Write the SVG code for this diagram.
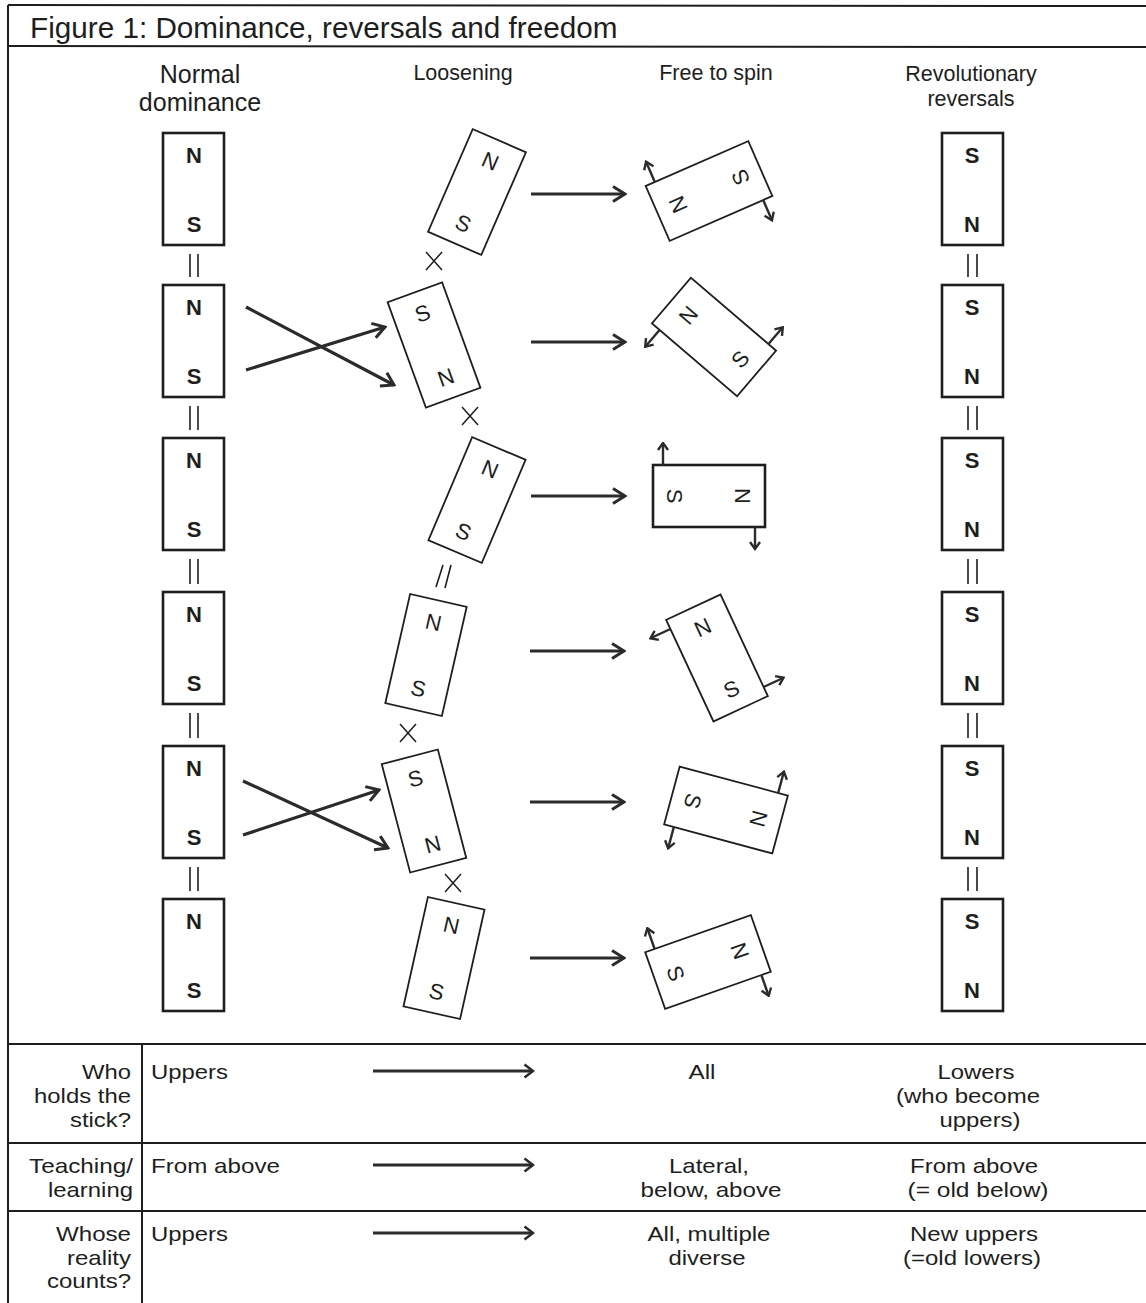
<svg xmlns="http://www.w3.org/2000/svg" width="1146" height="1303" viewBox="0 0 1146 1303">
<defs>
<style>
.t{font-family:"Liberation Sans",Arial,sans-serif;fill:#1e1e1e}
.title{font-size:29.7px}
.h1{font-size:25px;text-anchor:middle}
.h{font-size:21.5px;text-anchor:middle}
.tb{font-size:21px}
.r{text-anchor:end}
.m{text-anchor:middle}
.mag{fill:none;stroke:#1e1e1e;stroke-width:2.6}
.mag2{fill:none;stroke:#1e1e1e;stroke-width:1.8}
.lb{font-family:"Liberation Sans",Arial,sans-serif;font-size:22px;font-weight:bold;text-anchor:middle;fill:#1e1e1e}
.lr{font-family:"Liberation Sans",Arial,sans-serif;font-size:22px;text-anchor:middle;fill:#1e1e1e}
.rule{stroke:#1e1e1e;stroke-width:2;fill:none}
.eq{stroke:#1e1e1e;stroke-width:1.6}
.x{stroke:#1e1e1e;stroke-width:1.5;fill:none}
.arr{stroke:#2b2b2b;stroke-width:3.2;fill:none;marker-end:url(#ah)}
.sp{stroke:#2b2b2b;stroke-width:2.4;fill:none;marker-end:url(#sh)}
.ta{stroke:#2b2b2b;stroke-width:3;fill:none;marker-end:url(#ht)}
</style>
<marker id="ah" viewBox="0 0 16 18" refX="14" refY="9" markerWidth="16" markerHeight="18" markerUnits="userSpaceOnUse" orient="auto"><path d="M2,1.5 L14,9 L2,16.5" fill="none" stroke="#2b2b2b" stroke-width="3"/></marker>
<marker id="sh" viewBox="0 0 10 12" refX="8.5" refY="6" markerWidth="10" markerHeight="12" markerUnits="userSpaceOnUse" orient="auto"><path d="M1.5,1 L8.5,6 L1.5,11" fill="none" stroke="#2b2b2b" stroke-width="2.4"/></marker>
<marker id="ht" viewBox="0 0 12 16" refX="10.5" refY="8" markerWidth="12" markerHeight="16" markerUnits="userSpaceOnUse" orient="auto"><path d="M2,1.5 L10.5,8 L2,14.5" fill="none" stroke="#2b2b2b" stroke-width="2.6"/></marker>
</defs>
<rect width="1146" height="1303" fill="#ffffff"/>
<g id="frame">
<line class="rule" x1="8" y1="5" x2="1146" y2="6"/>
<line class="rule" x1="8" y1="5" x2="8" y2="1303"/>
<line class="rule" x1="8" y1="46" x2="1146" y2="47"/>
<line class="rule" x1="8" y1="1044" x2="1146" y2="1044"/>
<line class="rule" x1="8" y1="1143" x2="1146" y2="1143"/>
<line class="rule" x1="8" y1="1211" x2="1146" y2="1211"/>
<line class="rule" x1="142" y1="1044" x2="142" y2="1303"/>
</g>
<g id="title"><text class="t title" x="30" y="38">Figure 1: Dominance, reversals and freedom</text></g>
<g id="headers">
<text class="t h1" x="200" y="83">Normal</text>
<text class="t h1" x="200" y="111">dominance</text>
<text class="t h" x="463" y="80">Loosening</text>
<text class="t h" x="716" y="80">Free to spin</text>
<text class="t h" x="971" y="81">Revolutionary</text>
<text class="t h" x="971" y="106">reversals</text>
</g>
<g id="normal">
<g id="n1"><rect class="mag" x="163" y="133" width="61" height="112"/><text class="lb" x="194" y="163">N</text><text class="lb" x="194" y="232">S</text></g>
<g id="n2"><rect class="mag" x="163" y="285" width="61" height="112"/><text class="lb" x="194" y="315">N</text><text class="lb" x="194" y="384">S</text></g>
<g id="n3"><rect class="mag" x="163" y="438" width="61" height="112"/><text class="lb" x="194" y="468">N</text><text class="lb" x="194" y="537">S</text></g>
<g id="n4"><rect class="mag" x="163" y="592" width="61" height="112"/><text class="lb" x="194" y="622">N</text><text class="lb" x="194" y="691">S</text></g>
<g id="n5"><rect class="mag" x="163" y="746" width="61" height="112"/><text class="lb" x="194" y="776">N</text><text class="lb" x="194" y="845">S</text></g>
<g id="n6"><rect class="mag" x="163" y="899" width="61" height="112"/><text class="lb" x="194" y="929">N</text><text class="lb" x="194" y="998">S</text></g>
</g>
<g id="revolutionary">
<g id="r1"><rect class="mag" x="942" y="133" width="61" height="112"/><text class="lb" x="972" y="163">S</text><text class="lb" x="972" y="232">N</text></g>
<g id="r2"><rect class="mag" x="942" y="285" width="61" height="112"/><text class="lb" x="972" y="315">S</text><text class="lb" x="972" y="384">N</text></g>
<g id="r3"><rect class="mag" x="942" y="438" width="61" height="112"/><text class="lb" x="972" y="468">S</text><text class="lb" x="972" y="537">N</text></g>
<g id="r4"><rect class="mag" x="942" y="592" width="61" height="112"/><text class="lb" x="972" y="622">S</text><text class="lb" x="972" y="691">N</text></g>
<g id="r5"><rect class="mag" x="942" y="746" width="61" height="112"/><text class="lb" x="972" y="776">S</text><text class="lb" x="972" y="845">N</text></g>
<g id="r6"><rect class="mag" x="942" y="899" width="61" height="112"/><text class="lb" x="972" y="929">S</text><text class="lb" x="972" y="998">N</text></g>
</g>
<g id="loosening">
<g id="l1" transform="translate(477,192) rotate(23.5)"><rect class="mag2" x="-29" y="-56" width="58" height="112"/><text class="lr" y="-26">N</text><text class="lr" y="42">S</text></g>
<g id="l2" transform="translate(434,345) rotate(-20)"><rect class="mag2" x="-29" y="-56" width="58" height="112"/><text class="lr" y="-26">S</text><text class="lr" y="42">N</text></g>
<g id="l3" transform="translate(477,500) rotate(23)"><rect class="mag2" x="-29" y="-56" width="58" height="112"/><text class="lr" y="-26">N</text><text class="lr" y="42">S</text></g>
<g id="l4" transform="translate(426,655) rotate(12.8)"><rect class="mag2" x="-29" y="-56" width="58" height="112"/><text class="lr" y="-26">N</text><text class="lr" y="42">S</text></g>
<g id="l5" transform="translate(424,811) rotate(-14.7)"><rect class="mag2" x="-29" y="-56" width="58" height="112"/><text class="lr" y="-26">S</text><text class="lr" y="42">N</text></g>
<g id="l6" transform="translate(444,958) rotate(12.6)"><rect class="mag2" x="-29" y="-56" width="58" height="112"/><text class="lr" y="-26">N</text><text class="lr" y="42">S</text></g>
</g>
<g id="free">
<g id="f1" transform="translate(709,191) rotate(-113.6)"><rect class="mag2" x="-30" y="-56" width="60" height="112"/><text class="lr" y="-26">N</text><text class="lr" y="42">S</text><line class="sp" x1="30" y1="-46" x2="52" y2="-46"/><line class="sp" x1="-30" y1="46" x2="-52" y2="46"/></g>
<g id="f2" transform="translate(714,337) rotate(-49.5)"><rect class="mag2" x="-30" y="-56" width="60" height="112"/><text class="lr" y="-26">N</text><text class="lr" y="42">S</text><line class="sp" x1="-30" y1="-46" x2="-52" y2="-46"/><line class="sp" x1="30" y1="46" x2="52" y2="46"/></g>
<g id="f3" transform="translate(709,496) rotate(90)"><rect class="mag" x="-31" y="-56" width="62" height="112"/><text class="lr" y="-26">N</text><text class="lr" y="42">S</text><line class="sp" x1="31" y1="-46" x2="53" y2="-46"/><line class="sp" x1="-31" y1="46" x2="-53" y2="46"/></g>
<g id="f4" transform="translate(717,658) rotate(-25)"><rect class="mag2" x="-30" y="-56" width="60" height="112"/><text class="lr" y="-26">N</text><text class="lr" y="42">S</text><line class="sp" x1="-30" y1="-46" x2="-52" y2="-46"/><line class="sp" x1="30" y1="46" x2="52" y2="46"/></g>
<g id="f5" transform="translate(726,810) rotate(105)"><rect class="mag2" x="-30" y="-56" width="60" height="112"/><text class="lr" y="-26">N</text><text class="lr" y="42">S</text><line class="sp" x1="-30" y1="-46" x2="-52" y2="-46"/><line class="sp" x1="30" y1="46" x2="52" y2="46"/></g>
<g id="f6" transform="translate(708,962) rotate(70.6)"><rect class="mag2" x="-30" y="-56" width="60" height="112"/><text class="lr" y="-26">N</text><text class="lr" y="42">S</text><line class="sp" x1="30" y1="-46" x2="52" y2="-46"/><line class="sp" x1="-30" y1="46" x2="-52" y2="46"/></g>
</g>
<g id="connectors">
<g id="equals">
<path class="eq" d="M190,254 V277 M198,254 V277"/>
<path class="eq" d="M190,406 V430 M198,406 V430"/>
<path class="eq" d="M190,559 V584 M198,559 V584"/>
<path class="eq" d="M190,713 V738 M198,713 V738"/>
<path class="eq" d="M190,867 V891 M198,867 V891"/>
<path class="eq" d="M968,254 V277 M977,254 V277"/>
<path class="eq" d="M968,406 V430 M977,406 V430"/>
<path class="eq" d="M968,559 V584 M977,559 V584"/>
<path class="eq" d="M968,713 V738 M977,713 V738"/>
<path class="eq" d="M968,867 V891 M977,867 V891"/>
<path class="eq" d="M443,565 L436,587 M451,565 L445,588"/>
</g>
<g id="breaks">
<path class="x" transform="translate(434,261)" d="M-8,-9 L8,9 M8,-9 L-8,9"/>
<path class="x" transform="translate(470,416)" d="M-8,-9 L8,9 M8,-9 L-8,9"/>
<path class="x" transform="translate(408,733)" d="M-8,-9 L8,9 M8,-9 L-8,9"/>
<path class="x" transform="translate(453,883)" d="M-8,-9 L8,9 M8,-9 L-8,9"/>
</g>
<g id="cross-arrows">
<line class="arr" x1="246" y1="307" x2="394" y2="385"/>
<line class="arr" x1="246" y1="370" x2="385" y2="327"/>
<line class="arr" x1="243" y1="781" x2="388" y2="848"/>
<line class="arr" x1="243" y1="835" x2="379" y2="790"/>
</g>
<g id="row-arrows">
<line class="arr" x1="531" y1="194" x2="625" y2="194"/>
<line class="arr" x1="531" y1="342" x2="625" y2="342"/>
<line class="arr" x1="531" y1="496" x2="625" y2="496"/>
<line class="arr" x1="530" y1="651" x2="624" y2="651"/>
<line class="arr" x1="530" y1="802" x2="624" y2="802"/>
<line class="arr" x1="530" y1="958" x2="624" y2="958"/>
</g>
<g id="table-arrows">
<line class="ta" x1="373" y1="1071" x2="533" y2="1071"/>
<line class="ta" x1="373" y1="1165" x2="533" y2="1165"/>
<line class="ta" x1="373" y1="1233" x2="533" y2="1233"/>
</g>
</g>
<g id="table">
<g id="row-stick">
<text class="t tb r" x="131" y="1079" textLength="49" lengthAdjust="spacingAndGlyphs">Who</text>
<text class="t tb r" x="131" y="1103" textLength="97" lengthAdjust="spacingAndGlyphs">holds the</text>
<text class="t tb r" x="131" y="1127" textLength="61" lengthAdjust="spacingAndGlyphs">stick?</text>
<text class="t tb" x="151" y="1079" textLength="77" lengthAdjust="spacingAndGlyphs">Uppers</text>
<text class="t tb m" x="702" y="1079" textLength="27" lengthAdjust="spacingAndGlyphs">All</text>
<text class="t tb m" x="976" y="1079" textLength="77" lengthAdjust="spacingAndGlyphs">Lowers</text>
<text class="t tb m" x="968" y="1103" textLength="144" lengthAdjust="spacingAndGlyphs">(who become</text>
<text class="t tb m" x="980" y="1127" textLength="81" lengthAdjust="spacingAndGlyphs">uppers)</text>
</g>
<g id="row-teaching">
<text class="t tb r" x="133" y="1173" textLength="104" lengthAdjust="spacingAndGlyphs">Teaching/</text>
<text class="t tb r" x="133" y="1197" textLength="85" lengthAdjust="spacingAndGlyphs">learning</text>
<text class="t tb" x="151" y="1173" textLength="129" lengthAdjust="spacingAndGlyphs">From above</text>
<text class="t tb m" x="709" y="1173" textLength="80" lengthAdjust="spacingAndGlyphs">Lateral,</text>
<text class="t tb m" x="711" y="1197" textLength="141" lengthAdjust="spacingAndGlyphs">below, above</text>
<text class="t tb m" x="974" y="1173" textLength="128" lengthAdjust="spacingAndGlyphs">From above</text>
<text class="t tb m" x="978" y="1197" textLength="141" lengthAdjust="spacingAndGlyphs">(= old below)</text>
</g>
<g id="row-reality">
<text class="t tb r" x="131" y="1241" textLength="75" lengthAdjust="spacingAndGlyphs">Whose</text>
<text class="t tb r" x="131" y="1265" textLength="64" lengthAdjust="spacingAndGlyphs">reality</text>
<text class="t tb r" x="131" y="1288" textLength="84" lengthAdjust="spacingAndGlyphs">counts?</text>
<text class="t tb" x="151" y="1241" textLength="77" lengthAdjust="spacingAndGlyphs">Uppers</text>
<text class="t tb m" x="709" y="1241" textLength="123" lengthAdjust="spacingAndGlyphs">All, multiple</text>
<text class="t tb m" x="707" y="1265" textLength="77" lengthAdjust="spacingAndGlyphs">diverse</text>
<text class="t tb m" x="974" y="1241" textLength="128" lengthAdjust="spacingAndGlyphs">New uppers</text>
<text class="t tb m" x="972" y="1265" textLength="138" lengthAdjust="spacingAndGlyphs">(=old lowers)</text>
</g>
</g>
</svg>
